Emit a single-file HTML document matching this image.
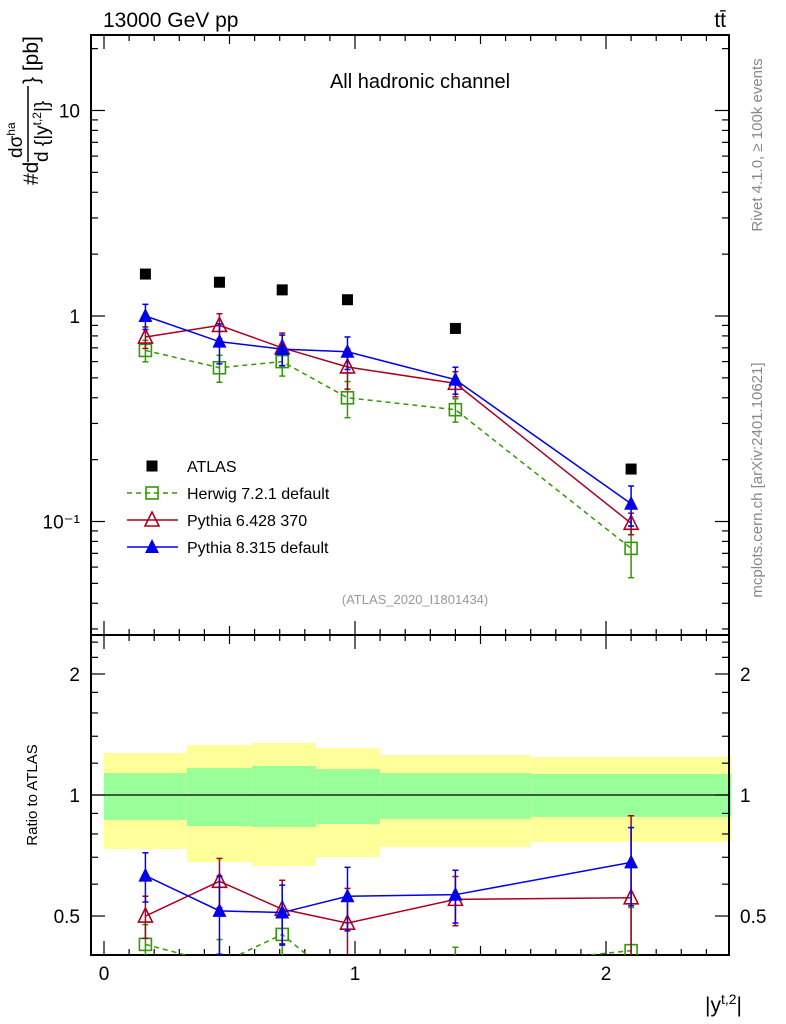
<!DOCTYPE html>
<html><head><meta charset="utf-8"><style>
html,body{margin:0;padding:0;background:#fff;}
svg{display:block;font-family:"Liberation Sans",sans-serif;}
</style></head><body>
<svg id="c" width="786" height="1024" viewBox="0 0 786 1024">
<text x="103" y="27" font-size="21">13000 GeV pp</text>
<text x="726" y="27" font-size="21" text-anchor="end">tt̄</text>
<text x="420" y="88" font-size="20" text-anchor="middle">All hadronic channel</text>
<text x="415" y="604" font-size="13" fill="#999" text-anchor="middle">(ATLAS_2020_I1801434)</text>
<text transform="translate(762,145) rotate(-90)" font-size="15" fill="#888" text-anchor="middle">Rivet 4.1.0, ≥ 100k events</text>
<text transform="translate(762,480) rotate(-90)" font-size="15" fill="#888" text-anchor="middle">mcplots.cern.ch [arXiv:2401.10621]</text>
<g transform="rotate(-90)">
<text x="-185" y="38" font-size="21">#d</text>
<text x="-158" y="22" font-size="19">dσ<tspan font-size="12" dy="-7">ha</tspan></text>
<line x1="-162" x2="-86" y1="28" y2="28" stroke="#000" stroke-width="1.5"/>
<text x="-162" y="48" font-size="19">d {|y<tspan font-size="12" dy="-7">t,2</tspan><tspan dy="7">|}</tspan></text>
<text x="-84" y="38" font-size="21">} [pb]</text>
</g>
<text transform="translate(37,795) rotate(-90)" font-size="15" text-anchor="middle">Ratio to ATLAS</text>
<text x="742" y="1012" font-size="21" text-anchor="end">|y<tspan font-size="14" dy="-8">t,2</tspan><tspan dy="8">|</tspan></text>
<g id="g"></g>
</svg>
<script>
const xCenters=[0.165,0.46,0.71,0.97,1.4,2.1];
const binEdges=[0,0.33,0.59,0.845,1.1,1.7,2.5];
const atlas=[1.6,1.46,1.34,1.2,0.87,0.18];
const herwig=[0.68,0.56,0.6,0.40,0.35,0.074];
const pythia6=[0.79,0.9,0.70,0.565,0.47,0.098];
const pythia8=[1.0,0.75,0.69,0.67,0.49,0.122];
const herwigErr=[0.12,0.15,0.15,0.2,0.13,0.28];
const pythia6Err=[0.12,0.14,0.18,0.22,0.14,0.12];
const pythia8Err=[0.14,0.22,0.17,0.18,0.15,0.22];
const ratioHerwig=[0.425,0.38,0.45,0.33,0.37,0.41];
const ratioPythia6=[0.5,0.61,0.52,0.48,0.55,0.555];
const ratioPythia8=[0.63,0.515,0.51,0.56,0.565,0.68];
const ratioHerwigErr=[0.12,0.15,0.15,0.2,0.13,0.28];
const ratioPythia6Err=[0.12,0.14,0.18,0.22,0.14,0.6];
const ratioPythia8Err=[0.14,0.22,0.17,0.18,0.15,0.22];
const yellowHi=[1.272,1.331,1.347,1.309,1.257,1.243];
const greenHi=[1.134,1.167,1.181,1.16,1.134,1.128];
const greenLo=[0.867,0.837,0.833,0.847,0.872,0.882];
const yellowLo=[0.734,0.681,0.666,0.701,0.742,0.764];
const xTicks=[0,1,2];
const mainTicks=[10,1,0.1];
const mainTickLabels=["10","1","10⁻¹"];
const ratioTicks=[2,1,0.5];
const ratioTickLabels=["2","1","0.5"];

const NS="http://www.w3.org/2000/svg";
const g=document.getElementById('g');
const X=v=>104+251*v;
const Y=v=>316-205.5*Math.log10(v);
const R=v=>795-402*Math.log10(v);
const L=91,Rt=729,T=35,MB=635,RB=955;
function el(t,a,p){const e=document.createElementNS(NS,t);for(const k in a)e.setAttribute(k,a[k]);(p||g).appendChild(e);return e;}

const bands=el('g',{});


for(let i=0;i<6;i++){
 const x0=X(binEdges[i]),x1=X(binEdges[i+1]);
 const y=el('rect',{x:x0,y:R(yellowHi[i]),width:x1-x0,height:R(yellowLo[i])-R(yellowHi[i]),fill:'#ffff99'},bands);
 
 
 const gr=el('rect',{x:x0,y:R(greenHi[i]),width:x1-x0,height:R(greenLo[i])-R(greenHi[i]),fill:'#99ff99'},bands);
 
 
}
el('line',{x1:L,x2:Rt,y1:R(1),y2:R(1),stroke:'#000','stroke-width':1.2});

const f1=el('rect',{x:L,y:T,width:Rt-L,height:MB-T,fill:'none',stroke:'#000','stroke-width':2});


const f2=el('rect',{x:L,y:MB,width:Rt-L,height:RB-MB,fill:'none',stroke:'#000','stroke-width':2});



for(let v=0;v<=2.5;v+=0.1){
 const major=Math.abs(v-Math.round(v))<1e-6, mid=Math.abs(v*2-Math.round(v*2))<1e-6;
 const len=major?14:(mid?9:6);
 [[T,1],[MB,-1],[MB,1],[RB,-1]].forEach(([y0,d])=>{
  el('line',{x1:X(v),x2:X(v),y1:y0,y2:y0+d*len,stroke:'#000','stroke-width':1.2});
 });
}
xTicks.forEach(v=>{const t=el('text',{x:X(v),y:980,'font-size':19,'text-anchor':'middle'});t.textContent=v;
 
 });

for(let d=-2;d<=1;d++){for(let m=1;m<10;m++){const v=m*Math.pow(10,d);const y=Y(v);if(y<T||y>MB)continue;
 const len=m==1?14:7;
 el('line',{x1:L,x2:L+len,y1:y,y2:y,stroke:'#000','stroke-width':1.2});
 el('line',{x1:Rt,x2:Rt-len,y1:y,y2:y,stroke:'#000','stroke-width':1.2});}}
mainTicks.forEach((v,i)=>{const t=el('text',{x:80,y:Y(v)+7,'font-size':19,'text-anchor':'end'});t.textContent=mainTickLabels[i];
 
 });
[0.4,0.5,0.6,0.7,0.8,0.9,1,1.2,1.4,1.6,1.8,2,2.2,2.4].forEach(v=>{const y=R(v);const len=(v==0.5||v==1||v==2)?14:7;
 el('line',{x1:L,x2:L+len,y1:y,y2:y,stroke:'#000','stroke-width':1.2});
 el('line',{x1:Rt,x2:Rt-len,y1:y,y2:y,stroke:'#000','stroke-width':1.2});});
ratioTicks.forEach((v,i)=>{
 const t=el('text',{x:80,y:R(v)+7,'font-size':19,'text-anchor':'end'});t.textContent=ratioTickLabels[i];
 
 
 const t2=el('text',{x:740,y:R(v)+7,'font-size':19});t2.textContent=ratioTickLabels[i];
 
 });

function marker(type,x,y,color,parent){
 if(type=='sq') return el('rect',{x:x-6,y:y-6,width:12,height:12,fill:'none',stroke:color,'stroke-width':1.6},parent);
 if(type=='fsq') return el('rect',{x:x-5.5,y:y-5.5,width:11,height:11,fill:color},parent);
 if(type=='tri') return el('polygon',{points:`${x},${y-8} ${x-7},${y+6} ${x+7},${y+6}`,fill:'none',stroke:color,'stroke-width':1.6},parent);
 return el('polygon',{points:`${x},${y-8} ${x-7},${y+6} ${x+7},${y+6}`,fill:color},parent);
}
function series(name,vals,errs,sy,color,type,dash,ymin,ymax){
 const grp=el('g',{});
 
 
 const pts=xCenters.map((x,i)=>[X(x),sy(vals[i])]);
 const cp=`clip-${name}`;
 const cl=el('clipPath',{id:cp},grp);el('rect',{x:L,y:ymin,width:Rt-L,height:ymax-ymin},cl);
 const inner=el('g',{'clip-path':`url(#${cp})`},grp);
 if(type!='fsq'){
  const p=el('polyline',{points:pts.map(p=>p.join(',')).join(' '),fill:'none',stroke:color,'stroke-width':1.5,'stroke-dasharray':dash||'none'},inner);
  
  
 }
 pts.forEach((p,i)=>{
  if(errs){const e=errs[i];const y1=sy(vals[i]*(1+e)),y2=sy(vals[i]*Math.max(0.01,1-e));
   el('line',{x1:p[0],x2:p[0],y1:y1,y2:y2,stroke:color,'stroke-width':1.5},inner);
   el('line',{x1:p[0]-3,x2:p[0]+3,y1:y1,y2:y1,stroke:color,'stroke-width':1.5},inner);
   el('line',{x1:p[0]-3,x2:p[0]+3,y1:y2,y2:y2,stroke:color,'stroke-width':1.5},inner);}
  const m=marker(type,p[0],p[1],color,inner);
  
  
 });
}
const HC='#339900',P6C='#aa0022',P8C='#0000ee';
series('herwig-main',herwig,herwigErr,Y,HC,'sq','5,4',T,MB);
series('pythia6-main',pythia6,pythia6Err,Y,P6C,'tri',null,T,MB);
series('pythia8-main',pythia8,pythia8Err,Y,P8C,'ftri',null,T,MB);
series('atlas-data',atlas,null,Y,'#000','fsq',null,T,MB);
series('herwig-ratio',ratioHerwig,ratioHerwigErr,R,HC,'sq','5,4',MB,RB);
series('pythia6-ratio',ratioPythia6,ratioPythia6Err,R,P6C,'tri',null,MB,RB);
series('pythia8-ratio',ratioPythia8,ratioPythia8Err,R,P8C,'ftri',null,MB,RB);

const leg=el('g',{});


const items=[['ATLAS','#000','fsq',null],['Herwig 7.2.1 default',HC,'sq','5,4'],['Pythia 6.428 370',P6C,'tri',null],['Pythia 8.315 default',P8C,'ftri',null]];
items.forEach((it,i)=>{const y=466+27*i;const e=el('g',{},leg);
 
 
 if(it[2]!='fsq')el('line',{x1:127,x2:178,y1:y,y2:y,stroke:it[1],'stroke-width':1.5,'stroke-dasharray':it[3]||'none'},e);
 marker(it[2],152,y,it[1],e);
 const t=el('text',{x:187,y:y+6,'font-size':16},e);t.textContent=it[0];});
</script>
</body></html>
